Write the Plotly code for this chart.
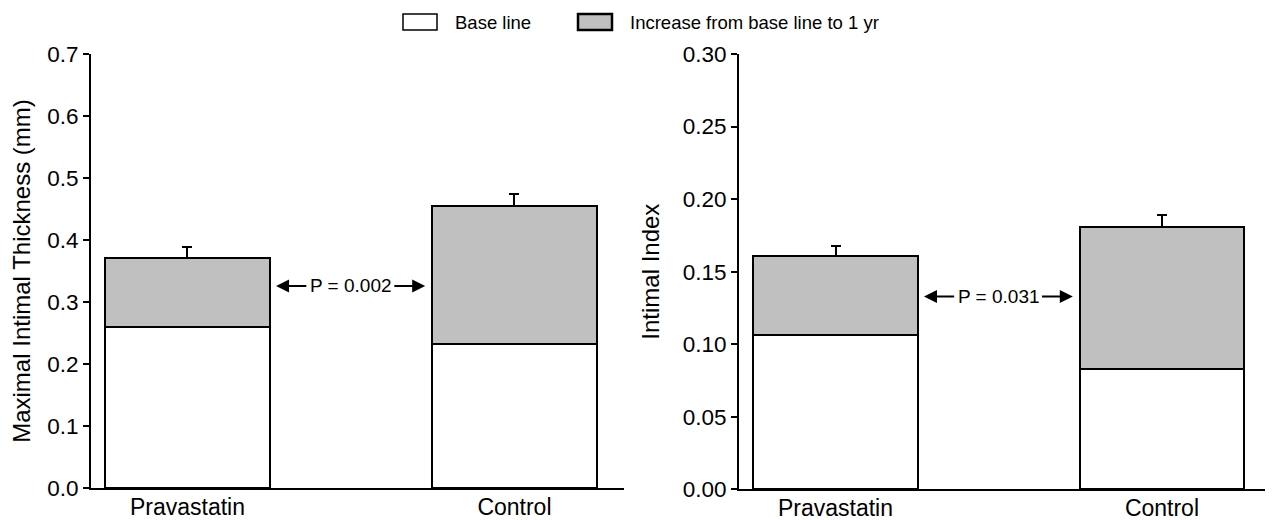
import plotly.graph_objects as go
from plotly.subplots import make_subplots

# ---- data ----
categories = ["Pravastatin", "Control"]
thickness_base = [0.259, 0.233]
thickness_increase = [0.112, 0.222]
thickness_err = [0.018, 0.019]
index_base = [0.106, 0.083]
index_increase = [0.055, 0.098]
index_err = [0.0067, 0.008]
thickness_ticks = [0.0, 0.1, 0.2, 0.3, 0.4, 0.5, 0.6, 0.7]
index_ticks = [0.00, 0.05, 0.10, 0.15, 0.20, 0.25, 0.30]
p_values = ["P = 0.002", "P = 0.031"]
legend_labels = ["Base line", "Increase from base line to 1 yr"]

# page has an 8px body margin; figure sized to fit the 1273x520 window
OFF = 8
W, H = 1273 - OFF, 520 - OFF
FONT = "Liberation Sans, Arial, Helvetica, sans-serif"
GRAY = "#c0c0c0"
BAR_W = 0.505


def px_x(p):
    return (p - OFF) / W


def px_y(p):
    return (H - (p - OFF)) / H


fig = make_subplots(rows=1, cols=2)


def add_panel(col, base, inc, err):
    fig.add_trace(go.Bar(x=categories, y=base, width=BAR_W, name=legend_labels[0],
                         marker=dict(color="white", line=dict(color="black", width=2)),
                         showlegend=False, hoverinfo="y"), row=1, col=col)
    fig.add_trace(go.Bar(x=categories, y=inc, width=BAR_W, name=legend_labels[1],
                         marker=dict(color=GRAY, line=dict(color="black", width=2)),
                         error_y=dict(type="data", symmetric=False, array=err,
                                      arrayminus=[0] * len(err), color="black",
                                      thickness=2, width=5),
                         showlegend=False, hoverinfo="y"), row=1, col=col)


add_panel(1, thickness_base, thickness_increase, thickness_err)
add_panel(2, index_base, index_increase, index_err)

axis_common = dict(showline=True, linecolor="black", linewidth=2, showgrid=False,
                   zeroline=False, automargin=False)
ytick_font = dict(family=FONT, size=22.5, color="black")
xtick_font = dict(family=FONT, size=23, color="black")
title_font = dict(family=FONT, size=24, color="black")

fig.update_layout(
    width=W, height=H, barmode="stack", plot_bgcolor="white", paper_bgcolor="white",
    margin=dict(l=0, r=0, t=0, b=0), showlegend=False,
    font=dict(family=FONT, color="black"),
    xaxis=dict(domain=[px_x(91), px_x(624)], range=[-0.295, 1.335], ticks="",
               tickfont=xtick_font, ticklabelstandoff=-3, **axis_common),
    xaxis2=dict(domain=[px_x(739), px_x(1271)], range=[-0.2956, 1.334], ticks="",
                tickfont=xtick_font, ticklabelstandoff=-3, **axis_common),
    yaxis=dict(domain=[px_y(488), px_y(54)], range=[0, 0.7],
               tickvals=thickness_ticks, tickformat=".1f", ticks="outside",
               ticklen=6, tickwidth=2, tickcolor="black", tickfont=ytick_font,
               title=dict(text="Maximal Intimal Thickness (mm)", standoff=19,
                          font=title_font),
               **axis_common),
    yaxis2=dict(domain=[px_y(489.3), px_y(54)], range=[0, 0.30],
                tickvals=index_ticks, tickformat=".2f", ticks="outside",
                ticklen=6, tickwidth=2, tickcolor="black", tickfont=ytick_font,
                title=dict(text="Intimal Index", standoff=16, font=title_font),
                **axis_common),
)

# P-value annotations with arrows
for xr, yr, yv, txt in [("x", "y", 0.326, p_values[0]), ("x2", "y2", 0.1328, p_values[1])]:
    fig.add_annotation(x=0.5, y=yv, xref=xr, yref=yr, text=txt, showarrow=False,
                       font=dict(family=FONT, size=19, color="black"))
    for tip, tail in [(0.271, 0.368), (0.727, 0.628)]:
        fig.add_annotation(x=tip, y=yv, ax=tail, ay=yv, xref=xr, yref=yr,
                           axref=xr, ayref=yr, text="", showarrow=True,
                           arrowhead=2, arrowsize=1.3, arrowwidth=2, arrowcolor="black")

# custom legend
legend_items = [(403, 437, "white", 1.5, legend_labels[0], 453),
                (578, 612, GRAY, 2.5, legend_labels[1], 628)]
for x0, x1, fill, lw, label, tx in legend_items:
    fig.add_shape(type="rect", xref="paper", yref="paper",
                  x0=px_x(x0), x1=px_x(x1), y0=px_y(30), y1=px_y(14),
                  fillcolor=fill, line=dict(color="black", width=lw))
    fig.add_annotation(x=px_x(tx), y=px_y(22), xref="paper", yref="paper",
                       xanchor="left", yanchor="middle", text=label, showarrow=False,
                       font=dict(family=FONT, size=18.5, color="black"))

fig.write_html("out.html")
